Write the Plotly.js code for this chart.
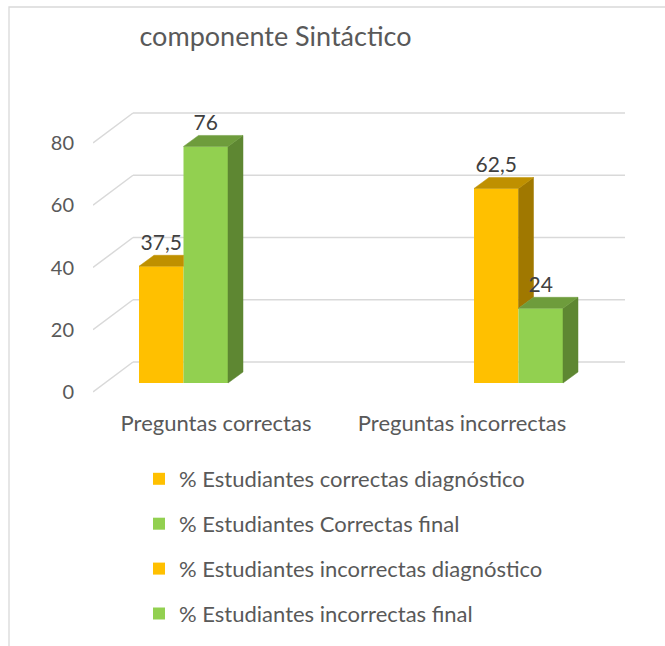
<!DOCTYPE html>
<html>
<head>
<meta charset="utf-8">
<script src="https://cdn.plot.ly/plotly-3.0.1.min.js"></script>
<style>html,body{margin:0;padding:0;background:#fff}#chart{width:665px;height:646px}</style>
</head>
<body>
<div id="chart"></div>
<script>
// ---- data ----
const categories = ["Preguntas correctas", "Preguntas incorrectas"];
const seriesNames = [
  "% Estudiantes correctas diagnóstico",
  "% Estudiantes Correctas final",
  "% Estudiantes incorrectas diagnóstico",
  "% Estudiantes incorrectas final"
];
const correctasDiagnostico = [37.5, null];
const correctasFinal = [76, null];
const incorrectasDiagnostico = [null, 62.5];
const incorrectasFinal = [null, 24];
const yTicks = [0, 20, 40, 60, 80];
const chartTitle = "componente Sintáctico";

// ---- style ----
const frontColors = ["#FFC000", "#92D050", "#FFC000", "#92D050"];
const topColors = ["#BF9000", "#6E9C3C", "#BF9000", "#6E9C3C"];
const sideColors = ["#A07800", "#5E8732", "#A07800", "#5E8732"];
const FONT = "Lato, 'Open Sans', sans-serif";
const TXT = "#595959";

// ---- geometry (pixels) ----
const plotL = 93, plotR = 626, plotT = 100, plotB = 400;
const catPx = 246;                 // pixels per category on the front floor edge
const yPx = 3.1125;                // pixels per unit
const barZeroPx = 383;             // zero line of the bar front plane
const floorDepth = {dx: 40, dy: 30};
const barPlane = {dx: 12, dy: 9};
const barDepth = {dx: 15, dy: 11};
const barWidthPx = 44.5;

const xMin = -0.5;
const xMax = xMin + (plotR - plotL) / catPx;
const yMin = -(plotB - barZeroPx) / yPx;
const yMax = (barZeroPx - plotT) / yPx;

const W = barWidthPx / catPx;
const shiftX = barPlane.dx / catPx;
const backDX = floorDepth.dx / catPx;
const frontShiftY = -barPlane.dy / yPx;
const backShiftY = (floorDepth.dy - barPlane.dy) / yPx;
const depthX = barDepth.dx / catPx;
const depthY = barDepth.dy / yPx;

const catIndex = categories.map((_, i) => i);
const series = [correctasDiagnostico, correctasFinal, incorrectasDiagnostico, incorrectasFinal];
const nS = series.length;
const offsets = series.map((s, i) => -nS * W / 2 + i * W + shiftX);

const traces = [];
// front faces: bar traces
series.forEach((vals, i) => {
  traces.push({
    type: "bar", x: catIndex, y: vals, name: seriesNames[i],
    legendgroup: "g" + i, width: W, offset: offsets[i],
    marker: {color: frontColors[i], line: {width: 0}}, hoverinfo: "y+name"
  });
});
// side + top faces (scatter polygons, drawn above bars, clipped where hidden by next bar)
series.forEach((vals, i) => {
  const sx = [], sy = [], tx = [], ty = [];
  vals.forEach((v, c) => {
    if (v === null) return;
    const next = (i + 1 < nS) ? series[i + 1][c] : null;
    const xL = catIndex[c] + offsets[i], xR = xL + W;
    const base = (next === null) ? 0 : Math.min(v, next);
    if (base < v) {
      sx.push(xR, xR + depthX, xR + depthX, xR, xR, null);
      sy.push(base, base + depthY, v + depthY, v, base, null);
    }
    if (next !== null && next > v) {
      tx.push(xL, xR, xR, xL + depthX, xL, null);
      ty.push(v, v, v + depthY, v + depthY, v, null);
    } else {
      tx.push(xL, xR, xR + depthX, xL + depthX, xL, null);
      ty.push(v, v, v + depthY, v + depthY, v, null);
    }
  });
  traces.push({type: "scatter", mode: "lines", x: sx, y: sy, fill: "toself", fillcolor: sideColors[i],
    line: {color: sideColors[i], width: 0.5}, showlegend: false, legendgroup: "g" + i, hoverinfo: "skip"});
  traces.push({type: "scatter", mode: "lines", x: tx, y: ty, fill: "toself", fillcolor: topColors[i],
    line: {color: topColors[i], width: 0.5}, showlegend: false, legendgroup: "g" + i, hoverinfo: "skip"});
});
// data labels
series.forEach((vals, i) => {
  const lx = [], ly = [], lt = [];
  vals.forEach((v, c) => {
    if (v === null) return;
    lx.push(catIndex[c] + offsets[i] + W / 2);
    ly.push(v + depthY + 11 / yPx);
    lt.push(String(v).replace(".", ","));
  });
  traces.push({type: "scatter", mode: "text", x: lx, y: ly, text: lt, textposition: "middle center",
    textfont: {family: FONT, size: 21, color: "#404040"}, showlegend: false, legendgroup: "g" + i, hoverinfo: "skip"});
});

// gridlines: floor diagonal + back wall
const shapes = [];
yTicks.forEach(v => {
  const line = {color: "#D9D9D9", width: 1.5};
  shapes.push({type: "line", xref: "x", yref: "y", layer: "below",
    x0: xMin, y0: v + frontShiftY, x1: xMin + backDX, y1: v + backShiftY, line});
  shapes.push({type: "line", xref: "x", yref: "y", layer: "below",
    x0: xMin + backDX, y0: v + backShiftY, x1: xMin + categories.length + backDX, y1: v + backShiftY, line});
});
// chart area border
const pw = plotR - plotL, ph = plotB - plotT;
shapes.push({type: "rect", xref: "paper", yref: "paper", layer: "below",
  x0: (9 - plotL) / pw, x1: (700 - plotL) / pw, y0: (plotB - 700) / ph, y1: (plotB - 7) / ph,
  line: {color: "#D9D9D9", width: 1.3}, fillcolor: "rgba(0,0,0,0)"});

const layout = {
  width: 665, height: 646,
  margin: {l: plotL, r: 665 - plotR, t: plotT, b: 646 - plotB, pad: 0, autoexpand: false},
  paper_bgcolor: "#fff", plot_bgcolor: "rgba(0,0,0,0)",
  title: {text: chartTitle, font: {family: FONT, size: 27, color: TXT},
    x: 275.5 / 665, xref: "container", xanchor: "center", y: 1 - 36.5 / 646, yref: "container", yanchor: "middle"},
  barmode: "overlay",
  xaxis: {type: "linear", range: [xMin, xMax], showgrid: false, zeroline: false, showline: false,
    tickvals: catIndex, ticktext: categories, automargin: false,
    ticks: "", tickfont: {family: FONT, size: 22, color: TXT}, ticklabelstandoff: 8, fixedrange: true},
  yaxis: {range: [yMin, yMax], showgrid: false, zeroline: false, showline: false, ticks: "",
    tickvals: yTicks.map(v => v + frontShiftY), ticktext: yTicks.map(String), automargin: false,
    tickfont: {family: FONT, size: 20, color: TXT}, ticklabelstandoff: 18, fixedrange: true},
  showlegend: true,
  legend: {orientation: "v", x: (139 - plotL) / pw, xanchor: "left", y: (plotB - 458) / ph, yanchor: "top",
    font: {family: FONT, size: 22, color: TXT}, tracegroupgap: 13.3, itemwidth: 30, bgcolor: "rgba(0,0,0,0)"},
  shapes: shapes
};

Plotly.newPlot("chart", traces, layout, {displayModeBar: false, staticPlot: true});
</script>
</body>
</html>
